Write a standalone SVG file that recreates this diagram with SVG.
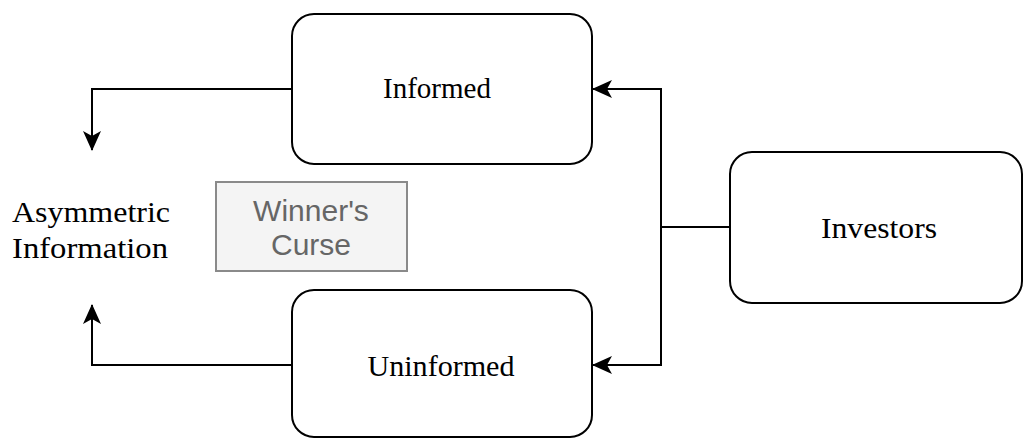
<svg xmlns="http://www.w3.org/2000/svg" width="1024" height="439" viewBox="0 0 1024 439">
  <style>
    .box { fill: #ffffff; stroke: #000000; stroke-width: 2; }
    .serif { font-family: "Liberation Serif", "DejaVu Serif", serif; font-size: 30px; fill: #000000; }
    .note { fill: #f4f4f4; stroke: #8a8a8a; stroke-width: 2; }
    .sans { font-family: "Liberation Sans", Arial, sans-serif; font-size: 30px; fill: #666666; }
    .conn { fill: none; stroke: #000000; stroke-width: 2; }
  </style>
  <defs>
    <marker id="arrow" viewBox="0 0 20 20" refX="19" refY="10" markerWidth="20" markerHeight="20" markerUnits="userSpaceOnUse" orient="auto">
      <path d="M0,1 L20,10 L0,19 L5,10 Z" fill="#000000"/>
    </marker>
  </defs>
  <rect width="1024" height="439" fill="#ffffff"/>

  <g id="connectors">
    <path class="conn" d="M292,89 H92 V150" marker-end="url(#arrow)"/>
    <path class="conn" d="M292,365 H92 V305" marker-end="url(#arrow)"/>
    <path class="conn" d="M730,227 H661 V89 H593" marker-end="url(#arrow)"/>
    <path class="conn" d="M661,227 V365 H593" marker-end="url(#arrow)"/>
  </g>

  <g id="node-informed">
    <rect class="box" x="292" y="14" width="300" height="150" rx="22" ry="22"/>
    <text class="serif" x="437" y="98" text-anchor="middle" textLength="108" lengthAdjust="spacingAndGlyphs">Informed</text>
  </g>

  <g id="node-uninformed">
    <rect class="box" x="292" y="290" width="300" height="147" rx="22" ry="22"/>
    <text class="serif" x="441" y="376" text-anchor="middle" textLength="147" lengthAdjust="spacingAndGlyphs">Uninformed</text>
  </g>

  <g id="node-investors">
    <rect class="box" x="730" y="152" width="292" height="151" rx="22" ry="22"/>
    <text class="serif" x="879" y="238" text-anchor="middle" textLength="116" lengthAdjust="spacingAndGlyphs">Investors</text>
  </g>

  <g id="node-asymmetric">
    <text class="serif" x="91" y="222" text-anchor="middle" textLength="158" lengthAdjust="spacingAndGlyphs">Asymmetric</text>
    <text class="serif" x="90" y="258" text-anchor="middle" textLength="156" lengthAdjust="spacingAndGlyphs">Information</text>
  </g>

  <g id="node-winners-curse">
    <rect class="note" x="216" y="182" width="191" height="89"/>
    <text class="sans" x="311" y="221" text-anchor="middle">Winner's</text>
    <text class="sans" x="311" y="255" text-anchor="middle">Curse</text>
  </g>
</svg>
